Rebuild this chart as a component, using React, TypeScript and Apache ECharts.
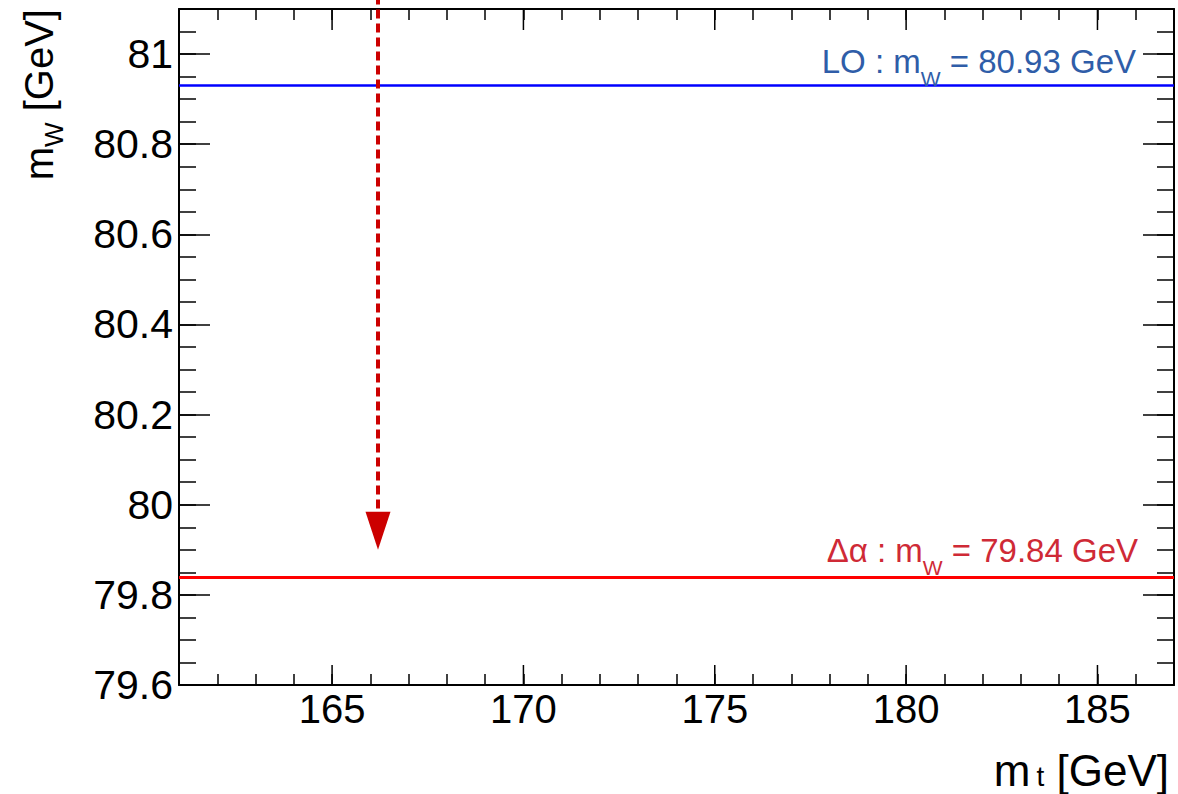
import React, { useEffect, useRef } from 'react';
import * as echarts from 'echarts';

// ---- data ----
const xRange = [161, 187];
const yRange = [79.6, 81.1];
const xMajorTicks = [165, 170, 175, 180, 185];
const yMajorTicks = [79.6, 79.8, 80, 80.2, 80.4, 80.6, 80.8, 81];
const xMinorStep = 1;
const yMinorStep = 0.05;
const yMajorStep = 0.2;
const loMw = 80.93;
const deltaAlphaMw = 79.84;
const arrowX = 166.2;
const arrowY = [81.13, 79.9];

const FONT = '"Liberation Sans", Arial, Helvetica, sans-serif';
const isMajor = (list: number[], v: number) => list.some((t) => Math.abs(t - v) < 1e-6);

export default function App() {
  const ref = useRef<HTMLDivElement>(null);
  useEffect(() => {
    if (!ref.current) return;
    const chart = echarts.init(ref.current, undefined, { renderer: 'svg' });

    const tickStyle = { color: '#000', width: 1.5 };
    const baseX = {
      type: 'value', min: xRange[0], max: xRange[1], interval: xMinorStep,
      splitLine: { show: false },
      axisLine: { show: true, onZero: false, lineStyle: { color: '#000', width: 2 } },
      axisTick: { show: true, inside: true, length: 11, lineStyle: tickStyle },
    };
    const baseY = {
      type: 'value', min: yRange[0], max: yRange[1],
      splitLine: { show: false },
    };

    const subRich = (color: string, main: number, sub: number, lh: number, pad: number, padLeft = 0) => ({
      m: { fontSize: main, lineHeight: lh, verticalAlign: 'top', color, fontFamily: FONT },
      s: { fontSize: sub, lineHeight: lh, verticalAlign: 'top', color, fontFamily: FONT, padding: [pad, 0, 0, padLeft] },
    });

    chart.setOption({
      animation: false,
      backgroundColor: '#fff',
      grid: { left: 179, right: 4, top: 9, bottom: 109 },
      xAxis: [
        {
          ...baseX, position: 'bottom',
          axisLabel: {
            show: true, fontSize: 40, color: '#000', fontFamily: FONT, margin: 4,
            formatter: (v: number) => (isMajor(xMajorTicks, v) ? String(v) : ''),
          },
        },
        { ...baseX, position: 'top', axisLabel: { show: false } },
      ],
      yAxis: [
        {
          ...baseY, position: 'left', interval: yMinorStep,
          axisLine: { show: true, onZero: false, lineStyle: { color: '#000', width: 2 } },
          axisTick: { show: true, inside: true, length: 17, lineStyle: tickStyle },
          axisLabel: {
            show: true, fontSize: 41, color: '#000', fontFamily: FONT, margin: 6,
            showMaxLabel: false,
            formatter: (v: number) => (isMajor(yMajorTicks, v) ? String(+v.toFixed(1)) : ''),
          },
        },
        {
          ...baseY, position: 'right', interval: yMinorStep,
          axisLine: { show: true, onZero: false, lineStyle: { color: '#000', width: 2 } },
          axisTick: { show: true, inside: true, length: 17, lineStyle: tickStyle },
          axisLabel: { show: false },
        },
        {
          ...baseY, position: 'left', interval: yMajorStep,
          axisLine: { show: false },
          axisTick: { show: true, inside: true, length: 31, lineStyle: tickStyle },
          axisLabel: { show: false },
        },
        {
          ...baseY, position: 'right', interval: yMajorStep,
          axisLine: { show: false },
          axisTick: { show: true, inside: true, length: 31, lineStyle: tickStyle },
          axisLabel: { show: false },
        },
      ],
      series: [
        {
          type: 'custom', xAxisIndex: 0, yAxisIndex: 0, silent: true, clip: false,
          data: xMajorTicks.map((v) => [v]),
          renderItem: (_p: any, api: any) => {
            const x = api.value(0);
            const b = api.coord([x, yRange[0]]);
            const t = api.coord([x, yRange[1]]);
            return {
              type: 'group',
              children: [
                { type: 'line', shape: { x1: b[0], y1: b[1], x2: b[0], y2: b[1] - 20 }, style: { stroke: '#000', lineWidth: 1.5 } },
                { type: 'line', shape: { x1: t[0], y1: t[1], x2: t[0], y2: t[1] + 21 }, style: { stroke: '#000', lineWidth: 1.5 } },
              ],
            };
          },
        },
        {
          type: 'line', name: 'LO', data: [], xAxisIndex: 0, yAxisIndex: 0,
          markLine: {
            silent: true, symbol: 'none',
            data: [{ yAxis: loMw }],
            lineStyle: { color: '#0000ff', width: 2.5, type: 'solid' },
            label: {
              show: true, position: 'insideEndTop', distance: -3, padding: [0, 41, 0, 0],
              formatter: '{m|LO : m}{s|W}{m| = ' + loMw.toFixed(2) + ' GeV}',
              rich: subRich('#2f5da8', 33, 21, 44, 23),
            },
          },
        },
        {
          type: 'line', name: 'delta alpha', data: [], xAxisIndex: 0, yAxisIndex: 0,
          markLine: {
            silent: true, symbol: 'none',
            data: [{ yAxis: deltaAlphaMw }],
            lineStyle: { color: '#ff0000', width: 3, type: 'solid' },
            label: {
              show: true, position: 'insideEndTop', distance: -1, padding: [0, 37, 0, 0],
              formatter: '{m|Δα : m}{s|W}{m| = ' + deltaAlphaMw.toFixed(2) + ' GeV}',
              rich: subRich('#cf2a36', 33, 21, 44, 23),
            },
          },
        },
        {
          type: 'custom', name: 'arrow', xAxisIndex: 0, yAxisIndex: 0, silent: true, clip: false,
          data: [[arrowX, arrowY[0], arrowY[1]]],
          encode: { x: 0, y: [1, 2] },
          z: 5,
          renderItem: (_p: any, api: any) => {
            const x = api.value(0);
            const a = api.coord([x, api.value(1)]);
            const tip = api.coord([x, api.value(2)]);
            const headH = 38;
            const headW = 25;
            return {
              type: 'group',
              children: [
                {
                  type: 'line',
                  shape: { x1: a[0], y1: a[1], x2: tip[0], y2: tip[1] - headH },
                  style: { stroke: '#cc0000', lineWidth: 4, lineDash: [9, 5] },
                },
                {
                  type: 'polygon',
                  shape: { points: [[tip[0] - headW / 2, tip[1] - headH], [tip[0] + headW / 2, tip[1] - headH], [tip[0], tip[1]]] },
                  style: { fill: '#cc0000' },
                },
              ],
            };
          },
        },
      ],
      graphic: [
        {
          type: 'text', x: 19, y: 9, rotation: Math.PI / 2, silent: true,
          style: {
            text: '{m|m}{s|W}{m| [GeV]}', align: 'right', verticalAlign: 'top',
            rich: subRich('#000', 40, 26, 50, 22),
          },
        },
        {
          type: 'text', x: 1169, y: 748, silent: true,
          style: {
            text: '{m|m}{s|t}{m| [GeV]}', align: 'right', verticalAlign: 'top',
            rich: subRich('#000', 44, 28, 42, 14, 6),
          },
        },
      ],
    });
    return () => chart.dispose();
  }, []);
  return <div ref={ref} style={{ position: 'absolute', left: 0, top: 0, width: 1178, height: 794 }} />;
}
